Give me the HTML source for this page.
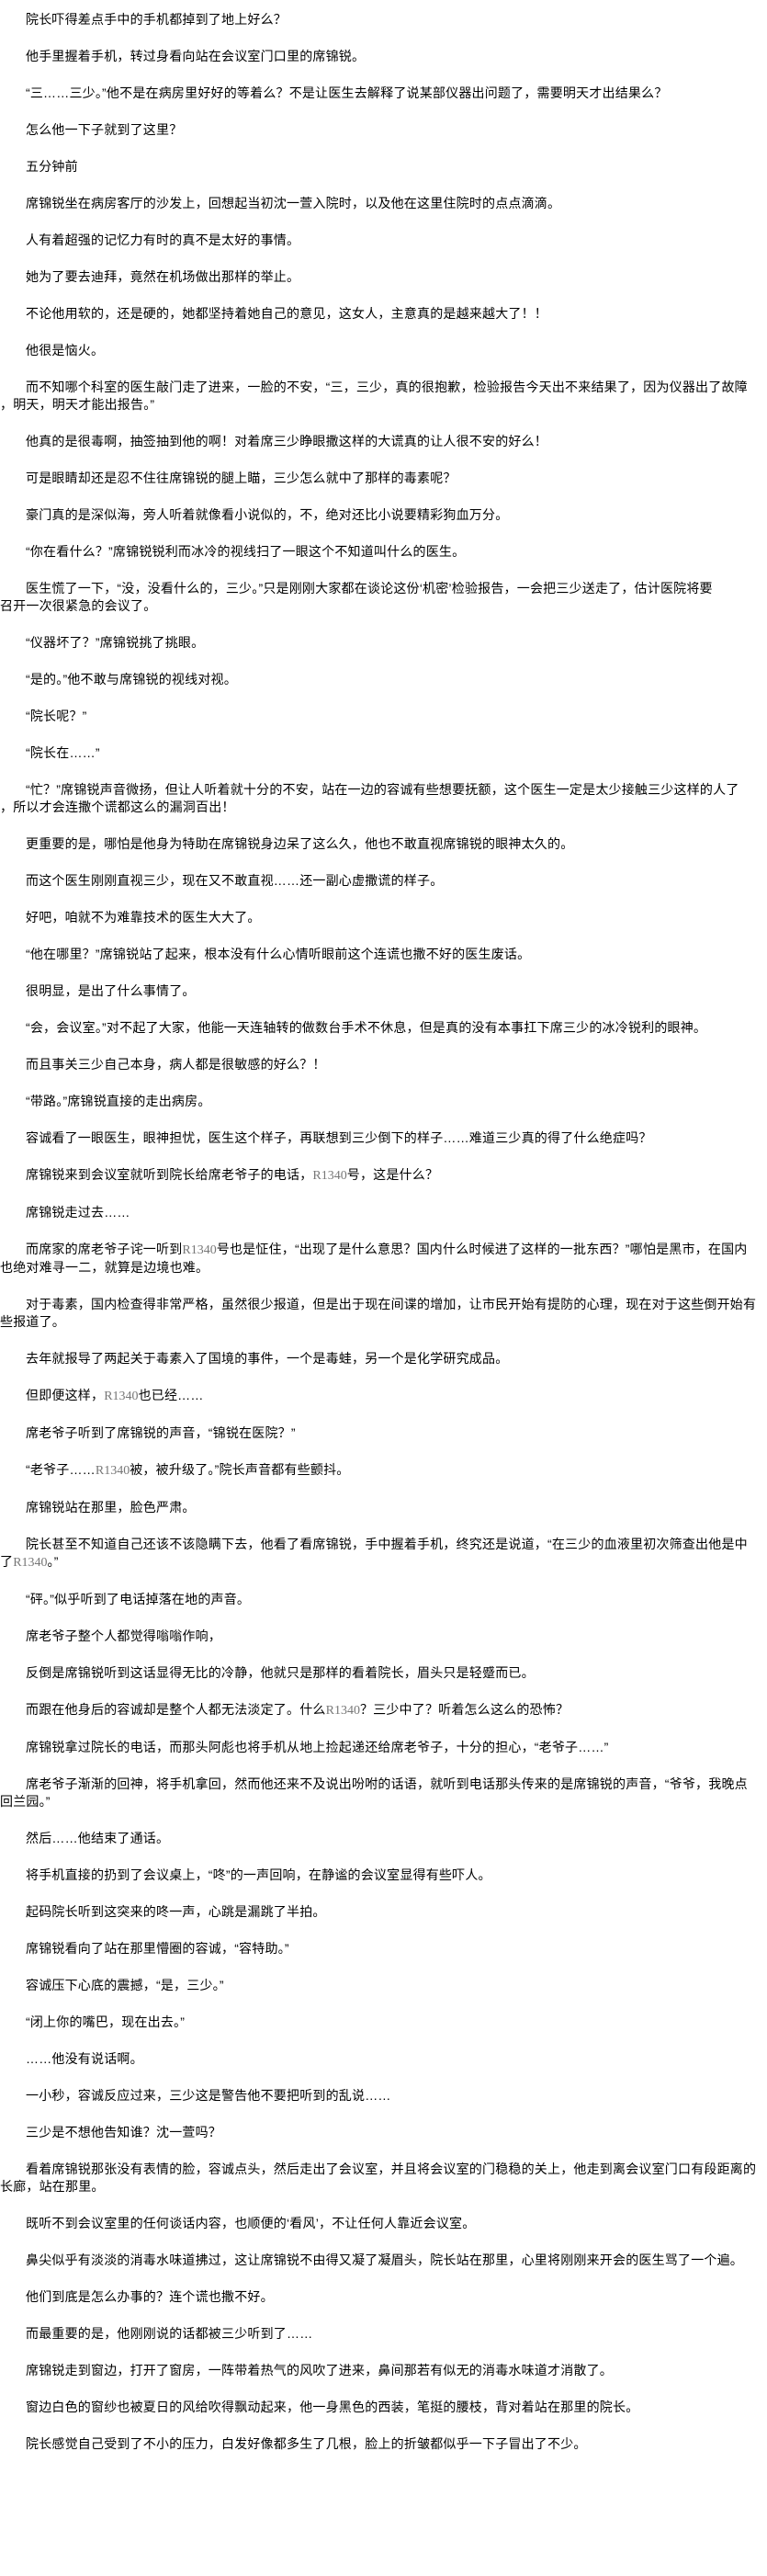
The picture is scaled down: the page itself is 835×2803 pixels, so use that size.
<!DOCTYPE html>
<html>
<head>
<meta charset="utf-8">
<style>
html,body{margin:0;padding:0;background:#fff;}
body{width:835px;height:2803px;overflow:hidden;padding-top:12px;box-sizing:border-box;
font-family:"Liberation Sans","Noto Sans CJK SC","WenQuanYi Zen Hei",sans-serif;font-size:14px;color:#000;letter-spacing:0.2px;}
p{margin:0 0 21px 0;line-height:19px;text-indent:28px;white-space:nowrap;}
.r{font-family:"Liberation Serif",serif;color:#777;letter-spacing:0;}
</style>
</head>
<body>
<p>院长吓得差点手中的手机都掉到了地上好么？</p>
<p>他手里握着手机，转过身看向站在会议室门口里的席锦锐。</p>
<p>“三……三少。”他不是在病房里好好的等着么？不是让医生去解释了说某部仪器出问题了，需要明天才出结果么？</p>
<p>怎么他一下子就到了这里？</p>
<p>五分钟前</p>
<p>席锦锐坐在病房客厅的沙发上，回想起当初沈一萱入院时，以及他在这里住院时的点点滴滴。</p>
<p>人有着超强的记忆力有时的真不是太好的事情。</p>
<p>她为了要去迪拜，竟然在机场做出那样的举止。</p>
<p>不论他用软的，还是硬的，她都坚持着她自己的意见，这女人，主意真的是越来越大了！！</p>
<p>他很是恼火。</p>
<p>而不知哪个科室的医生敲门走了进来，一脸的不安，“三，三少，真的很抱歉，检验报告今天出不来结果了，因为仪器出了故障<br>，明天，明天才能出报告。”</p>
<p>他真的是很毒啊，抽签抽到他的啊！对着席三少睁眼撒这样的大谎真的让人很不安的好么！</p>
<p>可是眼睛却还是忍不住往席锦锐的腿上瞄，三少怎么就中了那样的毒素呢？</p>
<p>豪门真的是深似海，旁人听着就像看小说似的，不，绝对还比小说要精彩狗血万分。</p>
<p>“你在看什么？”席锦锐锐利而冰冷的视线扫了一眼这个不知道叫什么的医生。</p>
<p>医生慌了一下，“没，没看什么的，三少。”只是刚刚大家都在谈论这份‘机密’检验报告，一会把三少送走了，估计医院将要<br>召开一次很紧急的会议了。</p>
<p>“仪器坏了？”席锦锐挑了挑眼。</p>
<p>“是的。”他不敢与席锦锐的视线对视。</p>
<p>“院长呢？”</p>
<p>“院长在……”</p>
<p>“忙？”席锦锐声音微扬，但让人听着就十分的不安，站在一边的容诚有些想要抚额，这个医生一定是太少接触三少这样的人了<br>，所以才会连撒个谎都这么的漏洞百出！</p>
<p>更重要的是，哪怕是他身为特助在席锦锐身边呆了这么久，他也不敢直视席锦锐的眼神太久的。</p>
<p>而这个医生刚刚直视三少，现在又不敢直视……还一副心虚撒谎的样子。</p>
<p>好吧，咱就不为难靠技术的医生大大了。</p>
<p>“他在哪里？”席锦锐站了起来，根本没有什么心情听眼前这个连谎也撒不好的医生废话。</p>
<p>很明显，是出了什么事情了。</p>
<p>“会，会议室。”对不起了大家，他能一天连轴转的做数台手术不休息，但是真的没有本事扛下席三少的冰冷锐利的眼神。</p>
<p>而且事关三少自己本身，病人都是很敏感的好么？！</p>
<p>“带路。”席锦锐直接的走出病房。</p>
<p>容诚看了一眼医生，眼神担忧，医生这个样子，再联想到三少倒下的样子……难道三少真的得了什么绝症吗？</p>
<p>席锦锐来到会议室就听到院长给席老爷子的电话，<span class="r">R1340</span>号，这是什么？</p>
<p>席锦锐走过去……</p>
<p>而席家的席老爷子诧一听到<span class="r">R1340</span>号也是怔住，“出现了是什么意思？国内什么时候进了这样的一批东西？”哪怕是黑市，在国内<br>也绝对难寻一二，就算是边境也难。</p>
<p>对于毒素，国内检查得非常严格，虽然很少报道，但是出于现在间谍的增加，让市民开始有提防的心理，现在对于这些倒开始有<br>些报道了。</p>
<p>去年就报导了两起关于毒素入了国境的事件，一个是毒蛙，另一个是化学研究成品。</p>
<p>但即便这样，<span class="r">R1340</span>也已经……</p>
<p>席老爷子听到了席锦锐的声音，“锦锐在医院？”</p>
<p>“老爷子……<span class="r">R1340</span>被，被升级了。”院长声音都有些颤抖。</p>
<p>席锦锐站在那里，脸色严肃。</p>
<p>院长甚至不知道自己还该不该隐瞒下去，他看了看席锦锐，手中握着手机，终究还是说道，“在三少的血液里初次筛查出他是中<br>了<span class="r">R1340</span>。”</p>
<p>“砰。”似乎听到了电话掉落在地的声音。</p>
<p>席老爷子整个人都觉得嗡嗡作响，</p>
<p>反倒是席锦锐听到这话显得无比的冷静，他就只是那样的看着院长，眉头只是轻蹙而已。</p>
<p>而跟在他身后的容诚却是整个人都无法淡定了。什么<span class="r">R1340</span>？三少中了？听着怎么这么的恐怖？</p>
<p>席锦锐拿过院长的电话，而那头阿彪也将手机从地上捡起递还给席老爷子，十分的担心，“老爷子……”</p>
<p>席老爷子渐渐的回神，将手机拿回，然而他还来不及说出吩咐的话语，就听到电话那头传来的是席锦锐的声音，“爷爷，我晚点<br>回兰园。”</p>
<p>然后……他结束了通话。</p>
<p>将手机直接的扔到了会议桌上，“咚”的一声回响，在静谧的会议室显得有些吓人。</p>
<p>起码院长听到这突来的咚一声，心跳是漏跳了半拍。</p>
<p>席锦锐看向了站在那里懵圈的容诚，“容特助。”</p>
<p>容诚压下心底的震撼，“是，三少。”</p>
<p>“闭上你的嘴巴，现在出去。”</p>
<p>……他没有说话啊。</p>
<p>一小秒，容诚反应过来，三少这是警告他不要把听到的乱说……</p>
<p>三少是不想他告知谁？沈一萱吗？</p>
<p>看着席锦锐那张没有表情的脸，容诚点头，然后走出了会议室，并且将会议室的门稳稳的关上，他走到离会议室门口有段距离的<br>长廊，站在那里。</p>
<p>既听不到会议室里的任何谈话内容，也顺便的‘看风’，不让任何人靠近会议室。</p>
<p>鼻尖似乎有淡淡的消毒水味道拂过，这让席锦锐不由得又凝了凝眉头，院长站在那里，心里将刚刚来开会的医生骂了一个遍。</p>
<p>他们到底是怎么办事的？连个谎也撒不好。</p>
<p>而最重要的是，他刚刚说的话都被三少听到了……</p>
<p>席锦锐走到窗边，打开了窗房，一阵带着热气的风吹了进来，鼻间那若有似无的消毒水味道才消散了。</p>
<p>窗边白色的窗纱也被夏日的风给吹得飘动起来，他一身黑色的西装，笔挺的腰枝，背对着站在那里的院长。</p>
<p>院长感觉自己受到了不小的压力，白发好像都多生了几根，脸上的折皱都似乎一下子冒出了不少。</p>
</body>
</html>
